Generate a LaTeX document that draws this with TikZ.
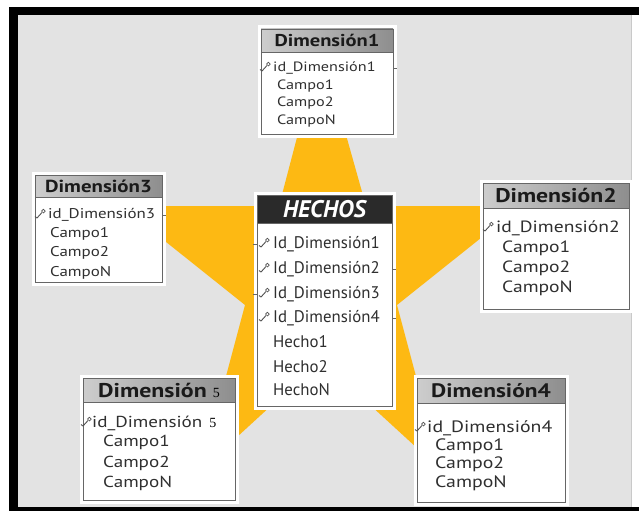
\documentclass[tikz,border=0pt]{standalone}
\usepackage{fontspec}
\setmainfont{PT Sans}
\newfontfamily\anchasans[FakeStretch=1.2]{PT Sans}
\newfontfamily\cincofont{Liberation Serif}
\usetikzlibrary{positioning}
\definecolor{EstrellaAmbar}{HTML}{FDB913}
\definecolor{FondoGris}{HTML}{E3E3E3}
\definecolor{BordeGris}{HTML}{666666}
\definecolor{CabeceraClara}{HTML}{CDCDCD}
\definecolor{CabeceraOscura}{HTML}{8E8E8E}
\definecolor{HechosNegro}{HTML}{2A2A2A}
\definecolor{TextoGris}{HTML}{2F2F2F}
\definecolor{TextoOscuro}{HTML}{1A1A1A}

\begin{document}
\begin{tikzpicture}[x=1pt, y=-1pt, every node/.style={inner sep=0pt},
    tabla/.style={draw=BordeGris, fill=white, line width=0.8pt, preaction={draw=white, line width=7pt}},
    cabecera/.style={draw=BordeGris, line width=0.8pt, left color=CabeceraClara, right color=CabeceraOscura, anchor=north, text=TextoOscuro, font=\anchasans\bfseries\fontsize{#1}{#1}\selectfont},
    cabnegra/.style={draw=BordeGris, line width=0.8pt, fill=HechosNegro, anchor=north, text=white, font=\bfseries\itshape\fontsize{24}{24}\selectfont},
    campo/.style={anchor=base west, text=TextoGris, font=\anchasans\fontsize{#1}{#1}\selectfont},
    hecho/.style={anchor=base west, text=TextoGris, font=\fontsize{16.8}{17}\selectfont},
    enlace/.style={draw=BordeGris, line width=0.8pt},
    llave/.pic={\draw[BordeGris!80!black, line width=0.9pt, line join=round] (-6,2.5) -- (-4,4) -- (1,-1.5);
                \draw[BordeGris!80!black, line width=0.7pt] (2.4,-2.9) circle[radius=1.8pt];}]
    \useasboundingbox (0,0) rectangle (639,511);

    % fondo gris y marco negro
    \fill[white] (0,0) rectangle (639,511);
    \fill[FondoGris] (18,15) rectangle (631,507);
    \fill[black] (9,7) rectangle (639,15);
    \fill[black] (9,7) rectangle (18,511);
    \fill[black] (9,507) rectangle (639,511);
    \draw[BordeGris!35, line width=0.6pt] (631.5,15) -- (631.5,507);

    % estrella
    \fill[EstrellaAmbar] (321,46) -- (366,206) -- (521,206) -- (397,305) -- (441,470) -- (321,360)
        -- (201,470) -- (245,305) -- (121,206) -- (279,206) -- cycle;

    % Dimension1 (arriba)
    \node[tabla, minimum width=132pt, minimum height=105pt] (dim1) at (327,81.5) {};
    \node[cabecera=17.1, minimum width=132pt, minimum height=23pt] (dim1cab) at (dim1.north) {Dimensión1};
    \pic at (266,67) {llave};
    \node[campo=13.5] (dim1id) at (273,71.5) {id\_Dimensión1};
    \node[campo=13.5] (dim1c1) at (277,89.5) {Campo1};
    \node[campo=13.5] (dim1c2) at (277,106.5) {Campo2};
    \node[campo=13.5] (dim1cn) at (277,124.5) {CampoN};
    \draw[enlace] (dim1.east |- dim1id.west) -- ++(4,0);

    % Dimension3 (izquierda)
    \node[tabla, minimum width=127pt, minimum height=107pt] (dim3) at (98.5,228.5) {};
    \node[cabecera=17.4, minimum width=127pt, minimum height=22pt] (dim3cab) at (dim3.north) {Dimensión3};
    \pic at (41,214) {llave};
    \node[campo=14.1] (dim3id) at (48,218.7) {id\_Dimensión3};
    \node[campo=14.1] (dim3c1) at (50,237.7) {Campo1};
    \node[campo=14.1] (dim3c2) at (50,256.7) {Campo2};
    \node[campo=14.1] (dim3cn) at (50,276.7) {CampoN};
    \draw[enlace] (dim3.east |- dim3id.west) -- ++(4,0);

    % Dimension2 (derecha)
    \node[tabla, minimum width=146pt, minimum height=126pt] (dim2) at (556,246) {};
    \node[cabecera=19.8, minimum width=146pt, minimum height=25pt] (dim2cab) at (dim2.north) {Dimensión2};
    \pic at (489,227) {llave};
    \node[campo=16.3] (dim2id) at (496,232.4) {id\_Dimensión2};
    \node[campo=16.3] (dim2c1) at (502,252.4) {Campo1};
    \node[campo=16.3] (dim2c2) at (502,272.4) {Campo2};
    \node[campo=16.3] (dim2cn) at (502,292.4) {CampoN};

    % Dimension 5 (abajo izquierda)
    \node[tabla, minimum width=152pt, minimum height=122pt] (dim5) at (159,439) {};
    \node[cabecera=19.9, minimum width=152pt, minimum height=24pt] (dim5cab) at (dim5.north)
        {Dimensión {\cincofont\mdseries\color{black}\fontsize{14}{14}\selectfont 5}};
    \pic at (87,422) {llave};
    \node[campo=15.9] (dim5id) at (92,427.3) {id\_Dimensión\hspace{7pt}{\cincofont\color{black}\fontsize{14}{14}\selectfont 5}};
    \node[campo=15.9] (dim5c1) at (103,446.3) {Campo1};
    \node[campo=15.9] (dim5c2) at (103,467.3) {Campo2};
    \node[campo=15.9] (dim5cn) at (103,487.3) {CampoN};

    % Dimension4 (abajo derecha)
    \node[tabla, minimum width=148pt, minimum height=124pt] (dim4) at (491,440) {};
    \node[cabecera=19.5, minimum width=148pt, minimum height=25pt] (dim4cab) at (dim4.north) {Dimensión4};
    \pic at (421,427) {llave};
    \node[campo=16.5] (dim4id) at (427,432.5) {id\_Dimensión4};
    \node[campo=16.5] (dim4c1) at (435,450.5) {Campo1};
    \node[campo=16.5] (dim4c2) at (435,468.5) {Campo2};
    \node[campo=16.5] (dim4cn) at (435,487.5) {CampoN};

    % tabla de hechos (centro)
    \node[tabla, minimum width=135pt, minimum height=211pt] (hechos) at (324.5,300.5) {};
    \node[cabnegra, minimum width=135pt, minimum height=28pt] (hechoscab) at (hechos.north) {HECHOS};
    \pic at (265,243) {llave};
    \pic at (265,268) {llave};
    \pic at (265,293) {llave};
    \pic at (265,317) {llave};
    \node[hecho] (hid1) at (273,248.6) {Id\_Dimensión1};
    \node[hecho] (hid2) at (273,273.6) {Id\_Dimensión2};
    \node[hecho] (hid3) at (273,298.6) {Id\_Dimensión3};
    \node[hecho] (hid4) at (273,322.6) {Id\_Dimensión4};
    \node[hecho] (hh1) at (273,347.6) {Hecho1};
    \node[hecho] (hh2) at (273,372.6) {Hecho2};
    \node[hecho] (hhn) at (273,395.6) {HechoN};
    \draw[enlace] (hechos.west |- hid1.west) -- ++(-4,0);
    \draw[enlace] (hechos.west |- hid3.west) -- ++(-4,0);
    \draw[enlace] (hechos.east |- hid2.west) -- ++(4,0);
    \draw[enlace] (hechos.east |- hid4.west) -- ++(4,0);
\end{tikzpicture}
\end{document}
